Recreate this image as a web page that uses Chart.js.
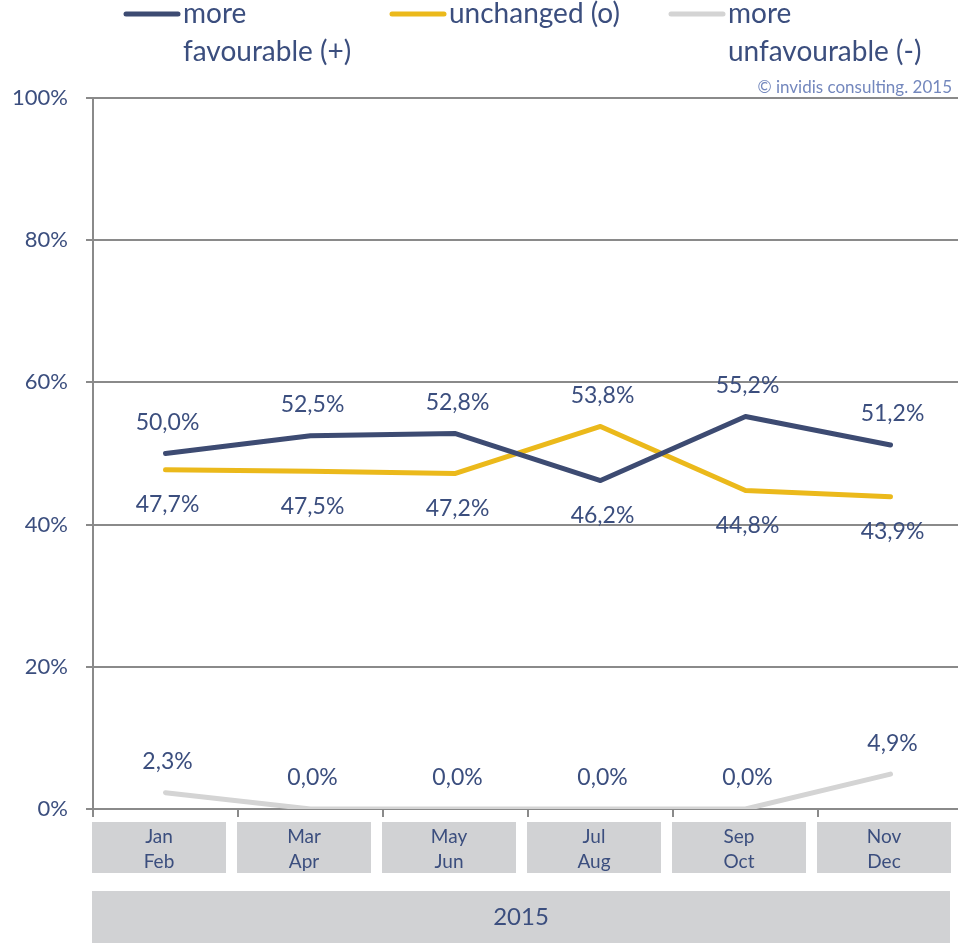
<!DOCTYPE html>
<html>
<head>
<meta charset="utf-8">
<script src="https://cdn.jsdelivr.net/npm/chart.js@4/dist/chart.umd.min.js"></script>
<style>
  html, body { margin: 0; padding: 0; background: #fff; overflow: hidden; }
  #wrap { width: 958px; height: 944px; overflow: hidden; }
</style>
</head>
<body>
<div id="wrap"><canvas id="c" width="970" height="944"></canvas></div>
<script>
const periods = [["Jan", "Feb"], ["Mar", "Apr"], ["May", "Jun"], ["Jul", "Aug"], ["Sep", "Oct"], ["Nov", "Dec"]];
const year = "2015";
const favourable = [50.0, 52.5, 52.8, 46.2, 55.2, 51.2];
const unchanged = [47.7, 47.5, 47.2, 53.8, 44.8, 43.9];
const unfavourable = [2.3, 0.0, 0.0, 0.0, 0.0, 4.9];
const seriesNames = [["more", "favourable (+)"], ["unchanged (o)"], ["more", "unfavourable (-)"]];
const yTicks = [0, 20, 40, 60, 80, 100];

const textCol = "#3b4e7e";
const gridCol = "#8a8a8a";
const boxCol = "#d1d2d4";
const font = "Lato";
const colors = ["#3d4b72", "#ebb91b", "#d4d4d4"];

const fmt = v => v.toFixed(1).replace(".", ",") + "%";

// labels, legend, category boxes
const decor = {
  id: "decor",
  afterDatasetsDraw(chart) {
    const ctx = chart.ctx;
    const x = chart.scales.x, y = chart.scales.y;
    ctx.save();
    ctx.fillStyle = textCol;
    ctx.font = "23px " + font;
    ctx.textAlign = "center";
    ctx.textBaseline = "middle";
    chart.data.datasets.forEach((ds, di) => {
      ds.data.forEach((v, i) => {
        let above = true;
        if (di < 2) {
          const other = chart.data.datasets[1 - di].data[i];
          above = v >= other;
        }
        const px = x.getPixelForValue(i);
        const py = y.getPixelForValue(v);
        ctx.fillText(fmt(v), px + 2, above ? py - 31 : py + 35);
      });
    });

    // category boxes
    const step = x.getPixelForValue(1) - x.getPixelForValue(0);
    periods.forEach((p, i) => {
      const left = x.getPixelForValue(i) - step / 2 - 1;
      const top = chart.chartArea.bottom + 13;
      ctx.fillStyle = boxCol;
      ctx.fillRect(left, top, step - 11, 51);
      ctx.fillStyle = textCol;
      ctx.font = "19px " + font;
      ctx.fillText(p[0], left + (step - 11) / 2, top + 15);
      ctx.fillText(p[1], left + (step - 11) / 2, top + 40);
    });
    const yl = x.getPixelForValue(0) - step / 2 - 1;
    ctx.fillStyle = boxCol;
    ctx.fillRect(yl, chart.chartArea.bottom + 82, 858, 52);
    ctx.fillStyle = textCol;
    ctx.font = "24px " + font;
    ctx.fillText(year, yl + 429, chart.chartArea.bottom + 108);

    // legend
    const lx = [123, 389, 668];
    ctx.textAlign = "left";
    ctx.lineCap = "round";
    ctx.lineWidth = 5;
    seriesNames.forEach((n, i) => {
      ctx.strokeStyle = colors[i];
      ctx.beginPath();
      ctx.moveTo(lx[i] + 3, 14);
      ctx.lineTo(lx[i] + 55, 14);
      ctx.stroke();
      ctx.fillStyle = textCol;
      ctx.font = "28px " + font;
      n.forEach((t, k) => ctx.fillText(t, lx[i] + 60, 14 + k * 38));
    });

    ctx.textAlign = "right";
    ctx.fillStyle = "#7387bd";
    ctx.font = "17px " + font;
    ctx.fillText("\u00a9 invidis consulting. 2015", 952, 88);
    ctx.restore();
  }
};

new Chart(document.getElementById("c"), {
  type: "line",
  data: {
    labels: periods.map(p => p.join(" ")),
    datasets: [
      { label: seriesNames[0].join(" "), data: favourable, borderColor: colors[0] },
      { label: seriesNames[1].join(" "), data: unchanged, borderColor: colors[1] },
      { label: seriesNames[2].join(" "), data: unfavourable, borderColor: colors[2] },
    ],
  },
  options: {
    responsive: false,
    animation: false,
    layout: { padding: { top: 98, right: 7, left: 0, bottom: 0 } },
    elements: {
      line: { borderWidth: 5, tension: 0, borderCapStyle: "round", borderJoinStyle: "round" },
      point: { radius: 0, hoverRadius: 0 },
    },
    plugins: { legend: { display: false }, tooltip: { enabled: false } },
    scales: {
      y: {
        min: 0,
        max: 100,
        afterBuildTicks: s => { s.ticks = yTicks.map(v => ({ value: v })); },
        afterFit: s => { s.width = 93; },
        ticks: {
          callback: v => v + "%",
          color: textCol,
          font: { family: font, size: 22 },
          padding: 18,
        },
        grid: { color: gridCol, lineWidth: 2, tickLength: 7 },
        border: { display: true, color: gridCol, width: 2 },
      },
      x: {
        offset: true,
        afterFit: s => { s.height = 135; },
        ticks: { display: false },
        grid: { offset: true, drawOnChartArea: false, color: gridCol, lineWidth: 2, tickLength: 8 },
        border: { display: false },
      },
    },
  },
  plugins: [decor],
});
</script>
</body>
</html>
